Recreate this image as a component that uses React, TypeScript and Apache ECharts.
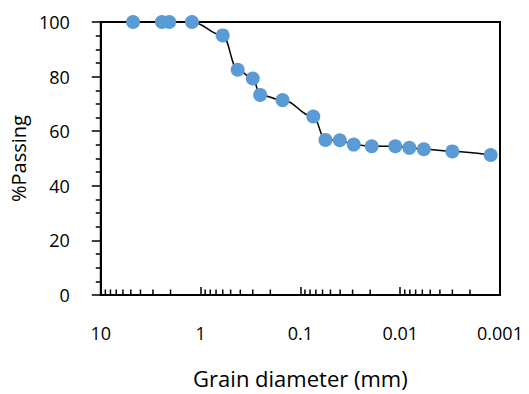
import React, { useEffect, useRef } from "react";
import * as echarts from "echarts";

const grainSizes = [4.75, 2.44, 2.06, 1.22, 0.6, 0.425, 0.3, 0.253, 0.151, 0.0743, 0.0561, 0.0403, 0.0292, 0.0193, 0.0112, 0.0081, 0.0058, 0.003, 0.00124];
const percentPassing = [100, 100, 100, 100, 95.1, 82.5, 79.3, 73.3, 71.4, 65.4, 56.8, 56.7, 55.1, 54.5, 54.5, 53.9, 53.4, 52.6, 51.3];
const decades = [0.001, 0.01, 0.1, 1];
const minorMultipliers = [2, 3, 4, 5, 6, 7, 8, 9];

const FONT = "Open Sans";

export default function App() {
  const ref = useRef<HTMLDivElement>(null);
  useEffect(() => {
    if (!ref.current) return;
    const chart = echarts.init(ref.current, null, { renderer: "svg" });
    const minorTicks: number[][] = [];
    decades.forEach((d) => minorMultipliers.forEach((m) => minorTicks.push([+(d * m).toPrecision(6), 0])));
    chart.setOption({
      animation: false,
      grid: {
        left: 99,
        right: 29,
        top: 22,
        bottom: 96,
        show: true,
        borderColor: "#000",
        borderWidth: 2,
      },
      xAxis: {
        type: "log",
        min: 0.001,
        max: 10,
        inverse: true,
        logBase: 10,
        name: "Grain diameter (mm)",
        nameLocation: "middle",
        nameGap: 72,
        nameTextStyle: { fontFamily: FONT, fontSize: 22, color: "#000" },
        axisLine: { lineStyle: { color: "#000", width: 2 } },
        axisTick: { inside: true, length: 8, lineStyle: { color: "#000", width: 1.5 } },
        axisLabel: {
          fontFamily: FONT,
          fontSize: 18,
          color: "#000",
          margin: 29,
          formatter: (v: number) => String(+v.toPrecision(6)),
        },
        splitLine: { show: false },
      },
      yAxis: {
        type: "value",
        min: 0,
        max: 100,
        interval: 20,
        name: "%Passing",
        nameLocation: "middle",
        nameGap: 67,
        nameTextStyle: { fontFamily: FONT, fontSize: 20, color: "#000" },
        axisLine: { show: true, lineStyle: { color: "#000", width: 2 } },
        axisTick: { show: true, inside: false, length: 9, lineStyle: { color: "#000", width: 1.5 } },
        minorTick: { show: true, splitNumber: 4, length: 5, lineStyle: { color: "#000", width: 1.5 } },
        axisLabel: { fontFamily: FONT, fontSize: 18, color: "#000", margin: 31 },
        splitLine: { show: false },
      },
      series: [
        {
          type: "custom",
          silent: true,
          z: 1,
          data: minorTicks,
          renderItem: (_params: any, api: any) => {
            const p = api.coord([api.value(0), 0]);
            return {
              type: "line",
              shape: { x1: p[0], y1: p[1], x2: p[0], y2: p[1] - 5.5 },
              style: { stroke: "#000", lineWidth: 1.5 },
            };
          },
        },
        {
          type: "line",
          z: 3,
          data: grainSizes.map((g, i) => [g, percentPassing[i]]),
          smooth: 0.4,
          smoothMonotone: "x",
          symbol: "circle",
          symbolSize: 14,
          itemStyle: { color: "#5B9BD5" },
          lineStyle: { color: "#000", width: 1.5 },
        },
      ],
    });
    return () => chart.dispose();
  }, []);
  return <div ref={ref} style={{ position: "absolute", left: 0, top: 0, width: 529, height: 394 }} />;
}
